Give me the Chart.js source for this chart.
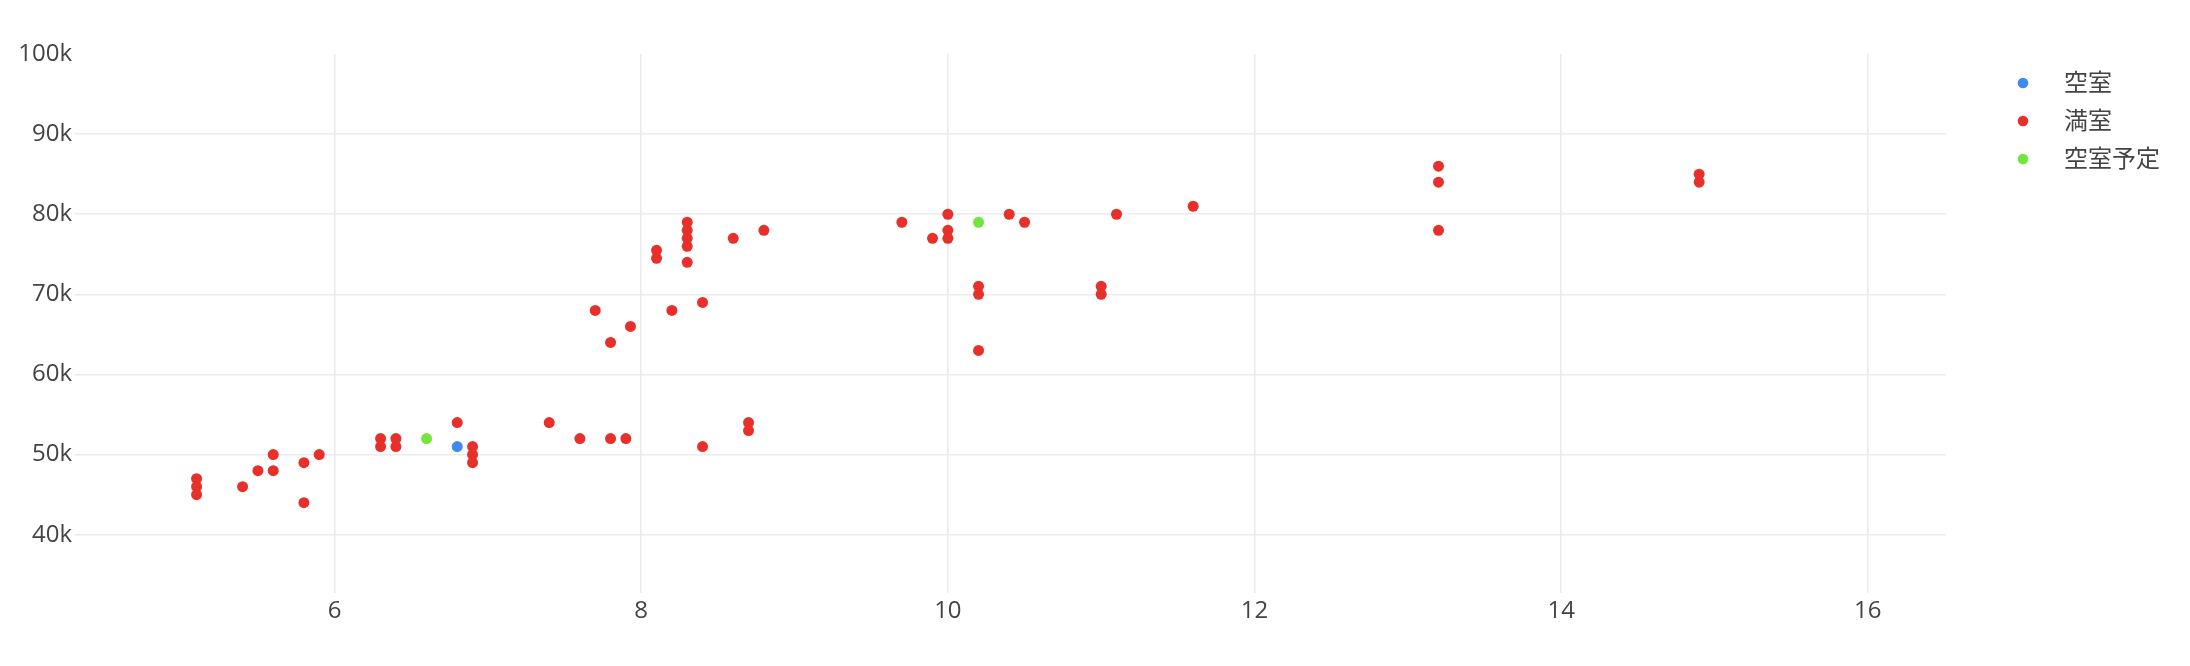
<!DOCTYPE html>
<html>
<head>
<meta charset="utf-8">
<script src="https://cdn.jsdelivr.net/npm/chart.js@4.4.1/dist/chart.umd.min.js"></script>
<style>
  html, body { margin: 0; padding: 0; background: #ffffff; }
  #wrap { position: relative; width: 2190px; height: 666px; }
  canvas { display: block; }
</style>
</head>
<body>
<div id="wrap"><canvas id="c" width="2190" height="666"></canvas></div>
<script>
// ---- data ----
const seriesNames = ['空室', '満室', '空室予定'];

const vacantX = [6.8];
const vacantY = [51000];

const fullX = [5.1, 5.1, 5.1, 5.4, 5.5, 5.6, 5.6, 5.8, 5.8, 5.9,
               6.3, 6.3, 6.4, 6.4, 6.8, 6.9, 6.9, 6.9, 7.4, 7.6,
               7.7, 7.8, 7.8, 7.9, 7.93, 8.1, 8.1, 8.2, 8.3, 8.3,
               8.3, 8.3, 8.3, 8.4, 8.4, 8.6, 8.7, 8.7, 8.8, 9.7,
               9.9, 10.0, 10.0, 10.0, 10.2, 10.2, 10.2, 10.4, 10.5, 11.0,
               11.0, 11.1, 11.6, 13.2, 13.2, 13.2, 14.9, 14.9];
const fullY = [45000, 46000, 47000, 46000, 48000, 50000, 48000, 49000, 44000, 50000,
               52000, 51000, 52000, 51000, 54000, 51000, 50000, 49000, 54000, 52000,
               68000, 64000, 52000, 52000, 66000, 75500, 74500, 68000, 79000, 78000,
               77000, 76000, 74000, 69000, 51000, 77000, 54000, 53000, 78000, 79000,
               77000, 80000, 78000, 77000, 71000, 70000, 63000, 80000, 79000, 71000,
               70000, 80000, 81000, 86000, 84000, 78000, 85000, 84000];

const plannedX = [6.6, 10.2];
const plannedY = [52000, 79000];

const xTicks = [6, 8, 10, 12, 14, 16];
const xTickLabels = ['6', '8', '10', '12', '14', '16'];
const yTicks = [40000, 50000, 60000, 70000, 80000, 90000, 100000];
const yTickLabels = ['40k', '50k', '60k', '70k', '80k', '90k', '100k'];

const colors = ['#3d8bef', '#e8302a', '#72e63f'];

function pts(xs, ys) { return xs.map((x, i) => ({ x: x, y: ys[i] })); }

const FONT = '"Open Sans", "Noto Sans CJK JP", sans-serif';

const legendPlugin = {
  id: 'sideLegend',
  afterDraw(chart) {
    const ctx = chart.ctx;
    ctx.save();
    chart.data.datasets.forEach((ds, i) => {
      const cy = 83 + i * 38;
      ctx.beginPath();
      ctx.fillStyle = ds.backgroundColor;
      ctx.arc(2023, cy, 5.3, 0, Math.PI * 2);
      ctx.fill();
      ctx.fillStyle = '#444444';
      ctx.font = '24px ' + FONT;
      ctx.textBaseline = 'middle';
      ctx.textAlign = 'left';
      ctx.fillText(ds.label, 2064, cy + 1);
    });
    ctx.restore();
  }
};

const mk = (name, xs, ys, color) => ({
  label: name,
  data: pts(xs, ys),
  backgroundColor: color,
  borderColor: color,
  borderWidth: 0,
  pointRadius: 5.5,
  pointHoverRadius: 5.5
});

new Chart(document.getElementById('c'), {
  type: 'scatter',
  data: {
    datasets: [
      mk(seriesNames[0], vacantX, vacantY, colors[0]),
      mk(seriesNames[1], fullX, fullY, colors[1]),
      mk(seriesNames[2], plannedX, plannedY, colors[2])
    ]
  },
  options: {
    responsive: false,
    devicePixelRatio: 1,
    animation: false,
    layout: { padding: { left: 0, right: 244, top: 54, bottom: 0 } },
    plugins: {
      legend: { display: false },
      tooltip: { enabled: false }
    },
    scales: {
      x: {
        type: 'linear',
        min: 4.307,
        max: 16.51,
        afterBuildTicks: (s) => { s.ticks = xTicks.map(v => ({ value: v })); },
        afterFit: (s) => { s.height = 73; },
        border: { display: false },
        grid: { color: '#ebebeb', lineWidth: 1.6, drawTicks: false },
        ticks: {
          padding: 4,
          color: '#444444',
          font: { family: FONT, size: 24 },
          maxRotation: 0,
          autoSkip: false,
          callback: (v) => { const i = xTicks.indexOf(v); return i >= 0 ? xTickLabels[i] : ''; }
        }
      },
      y: {
        type: 'linear',
        min: 32730,
        max: 100000,
        afterBuildTicks: (s) => { s.ticks = yTicks.map(v => ({ value: v })); },
        afterFit: (s) => { s.width = 75; },
        border: { display: false },
        grid: {
          color: (c) => (c.tick && c.tick.value === 100000) ? 'rgba(0,0,0,0)' : '#ebebeb',
          lineWidth: 1.6,
          drawTicks: false
        },
        ticks: {
          padding: 3,
          color: '#444444',
          font: { family: FONT, size: 24 },
          autoSkip: false,
          callback: (v) => { const i = yTicks.indexOf(v); return i >= 0 ? yTickLabels[i] : ''; }
        }
      }
    }
  },
  plugins: [legendPlugin]
});
</script>
</body>
</html>
